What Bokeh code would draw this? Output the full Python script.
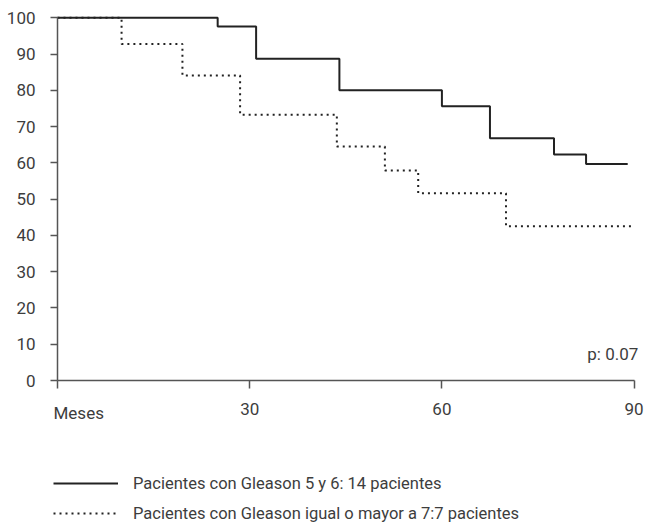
from bokeh.plotting import figure
from bokeh.models import Range1d, FixedTicker, Label, Legend, LegendItem
from bokeh.embed import file_html
from bokeh.resources import INLINE

# Kaplan-Meier style survival steps (months, % surviving)
months_g56 = [0, 25, 31, 44, 60, 67.5, 77.5, 82.5, 89]
surv_g56 = [100, 97.6, 88.7, 80.0, 75.6, 66.8, 62.3, 59.7, 59.7]

months_g7 = [0, 10, 19.5, 28.5, 43.6, 51.1, 56.3, 70, 90]
surv_g7 = [100, 92.8, 84.1, 73.3, 64.5, 57.9, 51.6, 42.5, 42.5]

x_ticks = [0, 30, 60, 90]
y_ticks = [0, 10, 20, 30, 40, 50, 60, 70, 80, 90, 100]
x_first_label = "Meses"
p_value_text = "p: 0.07"
label_g56 = "Pacientes con Gleason 5 y 6: 14 pacientes"
label_g7 = "Pacientes con Gleason igual o mayor a 7:7 pacientes"

FONT = "Roboto"
FS = "17px"
FS_LEG = "16.5px"
TXT = "#3d3d3d"
AX = "#555555"
LINE = "#222222"

# the plotting frame fills the whole canvas; axes sit at x=0 / y=0 inside it
p = figure(width=647, height=526, output_backend="svg", toolbar_location=None,
           x_range=Range1d(-8.897, 92.09), y_range=Range1d(-40.25, 104.77),
           min_border_left=0, min_border_right=0, min_border_top=0, min_border_bottom=0)
p.outline_line_color = None
p.xgrid.grid_line_color = None
p.ygrid.grid_line_color = None
p.background_fill_color = "white"
p.border_fill_color = "white"

for ax in (p.xaxis[0], p.yaxis[0]):
    ax.fixed_location = 0
    ax.axis_line_color = AX
    ax.axis_line_width = 1.5
    ax.major_tick_line_color = AX
    ax.major_tick_line_width = 1.5
    ax.minor_tick_line_color = None
    ax.major_tick_in = 0
    ax.major_label_text_font = FONT
    ax.major_label_text_font_size = FS
    ax.major_label_text_color = TXT

p.xaxis[0].ticker = FixedTicker(ticks=x_ticks)
p.xaxis[0].bounds = (0, 90)
p.xaxis[0].major_tick_out = 8
p.xaxis[0].major_label_standoff = 14
p.xaxis[0].major_label_overrides = {0: ""}

p.yaxis[0].ticker = FixedTicker(ticks=y_ticks)
p.yaxis[0].bounds = (0, 100)
p.yaxis[0].major_tick_out = 7
p.yaxis[0].major_label_standoff = 15

r7 = p.step(months_g7, surv_g7, mode="after", line_color=LINE, line_width=2,
            line_dash="2 4")
r56 = p.step(months_g56, surv_g56, mode="after", line_color=LINE, line_width=2)

p.add_layout(Label(x=0, y=-6.07, x_offset=-4, text=x_first_label, text_align="left",
                   text_baseline="top", text_font=FONT, text_font_size=FS,
                   text_color=TXT))
p.add_layout(Label(x=90.65, y=7.2, text=p_value_text, text_align="right",
                   text_baseline="middle", text_font=FONT, text_font_size=FS,
                   text_color=TXT))

legend = Legend(items=[LegendItem(label=label_g56, renderers=[r56]),
                       LegendItem(label=label_g7, renderers=[r7])],
                location=(53, 3), orientation="vertical",
                glyph_width=65, glyph_height=20, label_height=20, label_standoff=15,
                spacing=10, padding=0, margin=0,
                border_line_alpha=0, background_fill_alpha=0,
                label_text_font=FONT, label_text_font_size=FS_LEG, label_text_color=TXT)
p.add_layout(legend, "center")

open("out.html", "w").write(file_html(p, INLINE))
